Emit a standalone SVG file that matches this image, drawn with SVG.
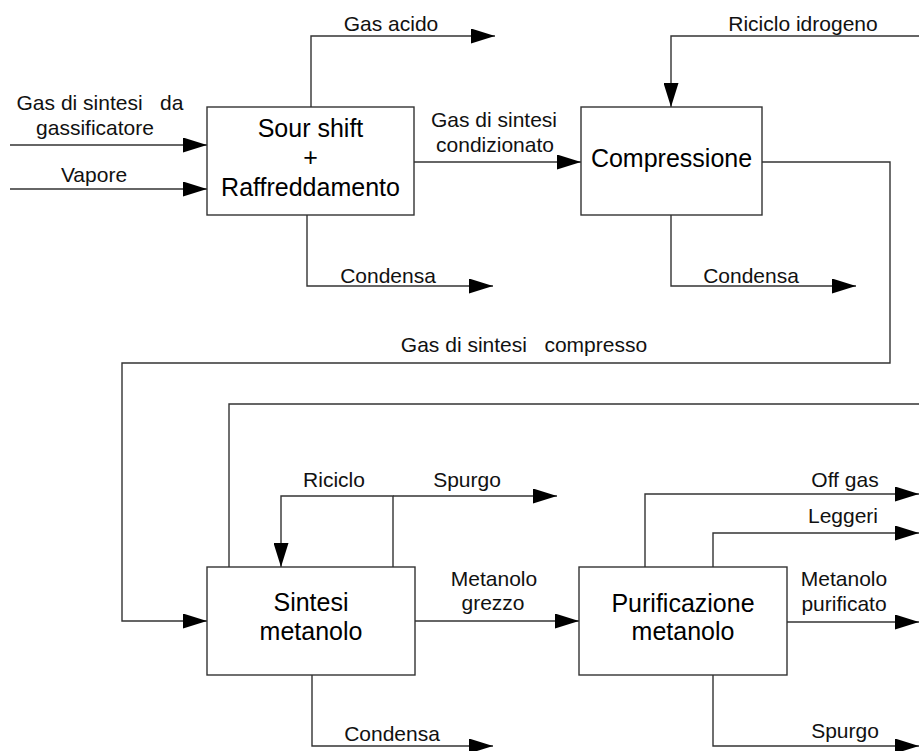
<svg xmlns="http://www.w3.org/2000/svg" width="919" height="751" viewBox="0 0 919 751">
  <style>
    .box { fill: #ffffff; stroke: #333333; stroke-width: 1.4; }
    .flow { fill: none; stroke: #333333; stroke-width: 1.4; }
    .arr { marker-end: url(#head); }
    .lbl { font-family: "Liberation Sans", Arial, sans-serif; font-size: 21px; fill: #111111; text-anchor: middle; white-space: pre; }
    .ttl { font-family: "Liberation Sans", Arial, sans-serif; font-size: 25px; fill: #000000; text-anchor: middle; }
  </style>
  <defs>
    <marker id="head" markerUnits="userSpaceOnUse" markerWidth="24" markerHeight="15" refX="24" refY="7.5" orient="auto" viewBox="0 0 24 15">
      <path d="M0,0 L24,7.5 L0,15 z" fill="#000000"/>
    </marker>
  </defs>
  <rect width="919" height="751" fill="#ffffff"/>

  <!-- connectors -->
  <g id="connectors">
    <!-- feeds into sour shift -->
    <path class="flow arr" d="M10,145 H207"/>
    <path class="flow arr" d="M10,189 H207"/>
    <!-- acid gas -->
    <path class="flow arr" d="M311,107 V36 H495"/>
    <!-- conditioned syngas -->
    <path class="flow arr" d="M414,162 H581"/>
    <!-- condensate from sour shift -->
    <path class="flow arr" d="M307,215 V286 H493"/>
    <!-- hydrogen recycle -->
    <path class="flow arr" d="M919,36 H671 V107"/>
    <!-- condensate from compression -->
    <path class="flow arr" d="M671,215 V286 H856"/>
    <!-- compressed syngas -->
    <path class="flow arr" d="M762,162 H890 V363 H122 V621 H207"/>
    <!-- line from synthesis top to right edge -->
    <path class="flow" d="M229,567 V404 H919"/>
    <!-- recycle / purge loop -->
    <path class="flow arr" d="M393,567 V496 H281 V567"/>
    <path class="flow arr" d="M393,496 H557"/>
    <!-- crude methanol -->
    <path class="flow arr" d="M415,621 H579"/>
    <!-- condensate from synthesis -->
    <path class="flow arr" d="M312,675 V746 H493"/>
    <!-- purification outputs -->
    <path class="flow arr" d="M645,567 V494 H919"/>
    <path class="flow arr" d="M713,567 V533 H919"/>
    <path class="flow arr" d="M787,622 H919"/>
    <path class="flow arr" d="M713,675 V746 H919"/>
  </g>

  <!-- connector labels -->
  <g id="labels">
    <text class="lbl" x="100" y="110" xml:space="preserve">Gas di sintesi   da</text>
    <text class="lbl" x="95" y="135">gassificatore</text>
    <text class="lbl" x="94" y="182">Vapore</text>
    <text class="lbl" x="391" y="31">Gas acido</text>
    <text class="lbl" x="494" y="127">Gas di sintesi</text>
    <text class="lbl" x="495" y="152">condizionato</text>
    <text class="lbl" x="388" y="283">Condensa</text>
    <text class="lbl" x="803" y="31">Riciclo idrogeno</text>
    <text class="lbl" x="751" y="283">Condensa</text>
    <text class="lbl" x="524" y="352" xml:space="preserve">Gas di sintesi   compresso</text>
    <text class="lbl" x="334" y="487">Riciclo</text>
    <text class="lbl" x="467" y="487">Spurgo</text>
    <text class="lbl" x="494" y="586">Metanolo</text>
    <text class="lbl" x="493" y="610">grezzo</text>
    <text class="lbl" x="392" y="741">Condensa</text>
    <text class="lbl" x="845" y="487">Off gas</text>
    <text class="lbl" x="843" y="523">Leggeri</text>
    <text class="lbl" x="844" y="586">Metanolo</text>
    <text class="lbl" x="844" y="611">purificato</text>
    <text class="lbl" x="845" y="738">Spurgo</text>
  </g>

  <!-- process blocks -->
  <g id="sour-shift">
    <rect class="box" x="207" y="107" width="207" height="108"/>
    <text class="ttl" x="310.5" y="137">Sour shift</text>
    <text class="ttl" x="310.5" y="166">+</text>
    <text class="ttl" x="310.5" y="196">Raffreddamento</text>
  </g>
  <g id="compressione">
    <rect class="box" x="581" y="107" width="181" height="108"/>
    <text class="ttl" x="671.5" y="167">Compressione</text>
  </g>
  <g id="sintesi-metanolo">
    <rect class="box" x="207" y="567" width="208" height="108"/>
    <text class="ttl" x="311" y="611">Sintesi</text>
    <text class="ttl" x="311" y="640">metanolo</text>
  </g>
  <g id="purificazione-metanolo">
    <rect class="box" x="579" y="567" width="208" height="108"/>
    <text class="ttl" x="683" y="612">Purificazione</text>
    <text class="ttl" x="683" y="640">metanolo</text>
  </g>
</svg>
